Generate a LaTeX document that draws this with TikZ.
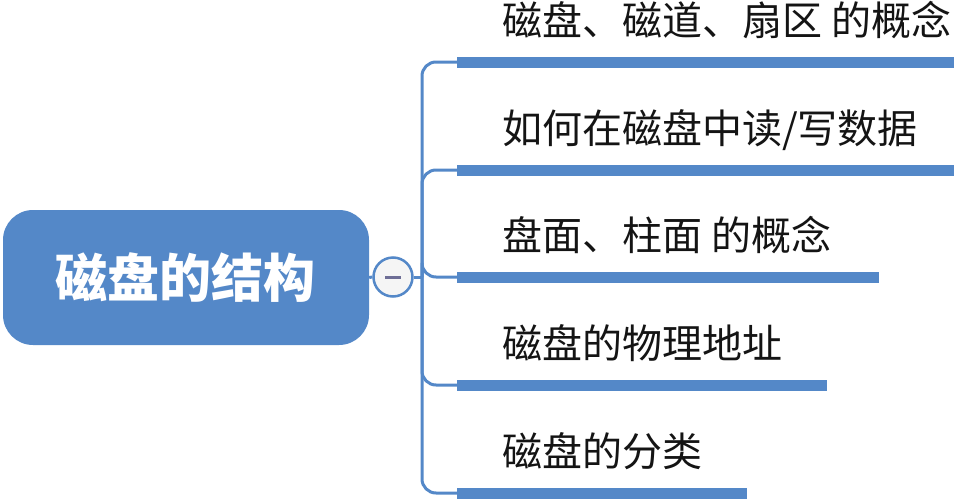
\documentclass[tikz,border=0pt]{standalone}
\usepackage{fontspec}
\setmainfont{Noto Sans CJK SC}
\usetikzlibrary{positioning}
\definecolor{xblue}{RGB}{84,136,200}
\definecolor{xtext}{RGB}{20,20,20}
\definecolor{xminus}{RGB}{110,110,150}
\tikzset{
  rootbox/.style={rectangle,rounded corners=30pt,fill=xblue,text=white,
    minimum width=366pt,minimum height=135pt,inner sep=0pt,
    font=\fontsize{52pt}{56pt}\selectfont\bfseries},
  toggle/.style={circle,draw=xblue,line width=2.5pt,fill=gray!8,
    minimum size=39pt,inner sep=0pt,
    path picture={\draw[xminus,line width=3pt]
      ([xshift=-8pt]path picture bounding box.center) --
      ([xshift=8pt]path picture bounding box.center);}},
  branch/.style={draw=xblue,line width=3pt},
  topicbar/.style={draw=xblue,line width=11pt,line cap=butt},
  topic/.style={anchor=west,inner sep=0pt,text=xtext,text height=33pt,text depth=6pt,
    font=\fontsize{40pt}{42pt}\selectfont}
}
\begin{document}
\begin{tikzpicture}[x=1pt,y=-1pt]
  \useasboundingbox (0,0) rectangle (954,501);
  \node[rootbox] (root) at (186,277.5) {磁盘的结构};
  \node[toggle] (tog) at (393,277) {};
  \coordinate (hub) at (422,277);
  \draw[branch] (root.east) -- (tog.west);
  \draw[branch] (tog.east) -- (hub);
  % topics and their bars
  \foreach \i/\y/\xe/\txt in {1/62/954/{磁盘、磁道、扇区 的概念},
      2/170/954/{如何在磁盘中读/写数据},
      3/277/879/{盘面、柱面 的概念},
      4/385/827/{磁盘的物理地址},
      5/493/747/{磁盘的分类}}{
    \coordinate (b\i) at (457,\y);
    \draw[branch,rounded corners=14pt] (hub) |- (b\i);
    \draw[topicbar] (b\i) -- (\xe,\y);
    \node[topic] (t\i) at (502,\y-40) {\txt};
  }
\end{tikzpicture}
\end{document}
